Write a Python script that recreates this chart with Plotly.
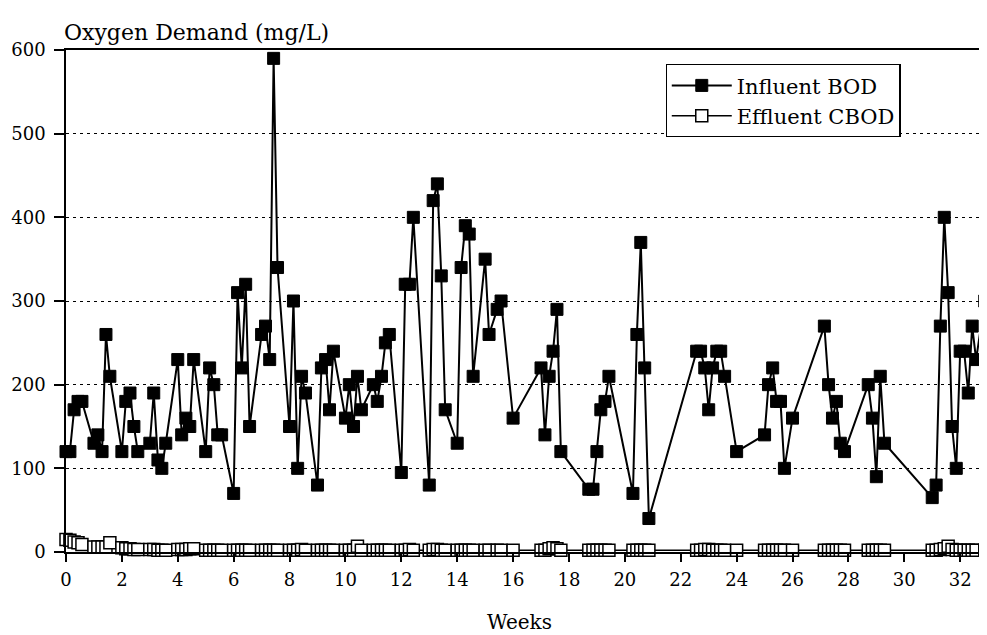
import plotly.graph_objects as go

# ---- data ----
weeks = [0.00, 0.14, 0.29, 0.43, 0.57,
         1.00, 1.14, 1.29, 1.43, 1.57,
         2.00, 2.14, 2.29, 2.43, 2.57,
         3.00, 3.14, 3.29, 3.43, 3.57,
         4.00, 4.14, 4.29, 4.43, 4.57,
         5.00, 5.14, 5.29, 5.43, 5.57,
         6.00, 6.14, 6.29, 6.43, 6.57,
         7.00, 7.14, 7.29, 7.43, 7.57,
         8.00, 8.14, 8.29, 8.43, 8.57,
         9.00, 9.14, 9.29, 9.43, 9.57,
         10.00, 10.14, 10.29, 10.43, 10.57,
         11.00, 11.14, 11.29, 11.43, 11.57,
         12.00, 12.14, 12.29, 12.43,
         13.00, 13.14, 13.29, 13.43, 13.57,
         14.00, 14.14, 14.29, 14.43, 14.57,
         15.00, 15.14, 15.43, 15.57,
         16.00,
         17.00, 17.14, 17.29, 17.43, 17.57, 17.71,
         18.71, 18.86,
         19.00, 19.14, 19.29, 19.43,
         20.29, 20.43, 20.57, 20.71, 20.86,
         22.57, 22.71, 22.86, 23.00, 23.14, 23.29, 23.43, 23.57,
         24.00,
         25.00, 25.14, 25.29, 25.43, 25.57, 25.71,
         26.00,
         27.14, 27.29, 27.43, 27.57, 27.71, 27.86,
         28.71, 28.86, 29.00, 29.14, 29.29,
         31.00, 31.14, 31.29, 31.43, 31.57, 31.71, 31.86,
         32.00, 32.14, 32.29, 32.43, 32.57, 32.88]

influent_bod = [120, 120, 170, 180, 180,
                130, 140, 120, 260, 210,
                120, 180, 190, 150, 120,
                130, 190, 110, 100, 130,
                230, 140, 160, 150, 230,
                120, 220, 200, 140, 140,
                70, 310, 220, 320, 150,
                260, 270, 230, 590, 340,
                150, 300, 100, 210, 190,
                80, 220, 230, 170, 240,
                160, 200, 150, 210, 170,
                200, 180, 210, 250, 260,
                95, 320, 320, 400,
                80, 420, 440, 330, 170,
                130, 340, 390, 380, 210,
                350, 260, 290, 300,
                160,
                220, 140, 210, 240, 290, 120,
                75, 75,
                120, 170, 180, 210,
                70, 260, 370, 220, 40,
                240, 240, 220, 170, 220, 240, 240, 210,
                120,
                140, 200, 220, 180, 180, 100,
                160,
                270, 200, 160, 180, 130, 120,
                200, 160, 90, 210, 130,
                65, 80, 270, 400, 310, 150, 100,
                240, 240, 190, 270, 230, 300]

effluent_cbod = [15, 14, 12, 11, 9,
                 6, 6, 6, 6, 11,
                 5, 4, 4, 3, 3,
                 3, 3, 2, 2, 2,
                 3, 3, 3, 4, 4,
                 2, 2, 2, 2, 2,
                 2, 2, 2, 2, 2,
                 2, 2, 2, 2, 2,
                 2, 2, 2, 3, 2,
                 2, 2, 2, 2, 2,
                 2, 2, 2, 7, 2,
                 2, 2, 2, 2, 2,
                 2, 2, 3, 2,
                 2, 3, 3, 2, 2,
                 2, 2, 2, 2, 2,
                 2, 2, 2, 2,
                 2,
                 2, 2, 4, 5, 4, 2,
                 2, 2,
                 2, 2, 2, 2,
                 2, 2, 2, 2, 2,
                 2, 2, 3, 3, 2, 2, 2, 2,
                 2,
                 2, 2, 2, 2, 2, 2,
                 2,
                 2, 2, 2, 2, 2, 2,
                 2, 2, 2, 2, 2,
                 2, 2, 3, 4, 7, 3, 2,
                 2, 2, 2, 2, 2, 2]

x_ticks = [0, 2, 4, 6, 8, 10, 12, 14, 16, 18, 20, 22, 24, 26, 28, 30, 32]
y_ticks = [0, 100, 200, 300, 400, 500, 600]

FONT = "DejaVu Serif, Liberation Serif, serif"

fig = go.Figure()
fig.add_trace(go.Scatter(
    x=weeks, y=influent_bod, name="Influent BOD", mode="lines+markers",
    line=dict(color="black", width=2),
    marker=dict(symbol="square", size=12, color="black",
                line=dict(color="black", width=1)),
    cliponaxis=False,
))
fig.add_trace(go.Scatter(
    x=weeks, y=effluent_cbod, name="Effluent CBOD", mode="lines+markers",
    line=dict(color="black", width=1.5),
    marker=dict(symbol="square", size=12, color="white",
                line=dict(color="black", width=1.5)),
    cliponaxis=False,
))

# the page body has an 8px margin, so the figure is sized/offset to compensate
fig.update_layout(
    width=979, height=627,
    margin=dict(l=58, r=0, t=42, b=83),
    paper_bgcolor="white", plot_bgcolor="white",
    font=dict(family=FONT, size=18, color="black"),
    showlegend=True,
    legend=dict(
        x=0.651, y=0.972, xanchor="left", yanchor="top",
        bgcolor="white", bordercolor="black", borderwidth=1.2,
        font=dict(family=FONT, size=21, color="black"),
        itemwidth=60, tracegroupgap=0,
    ),
    xaxis=dict(
        range=[0, 32.96], tickmode="array", tickvals=x_ticks,
        ticks="outside", ticklen=8, tickwidth=1.5, tickcolor="black",
        showline=True, linecolor="black", linewidth=1.5, mirror=True,
        showgrid=False, zeroline=False,
        tickfont=dict(family=FONT, size=18), ticklabelstandoff=3,
    ),
    yaxis=dict(
        range=[0, 600], tickmode="array", tickvals=y_ticks,
        ticks="outside", ticklen=10, tickwidth=1.5, tickcolor="black",
        showline=True, linecolor="black", linewidth=1.5,
        showgrid=True, gridcolor="black", gridwidth=1.2, griddash="3px,4px",
        zeroline=False,
        tickfont=dict(family=FONT, size=18), ticklabelstandoff=5,
    ),
    annotations=[
        dict(text="Oxygen Demand (mg/L)", xref="paper", yref="paper",
             x=-0.004, y=1.034, xanchor="left", yanchor="middle",
             showarrow=False, font=dict(family=FONT, size=22)),
        dict(text="Weeks", xref="paper", yref="paper",
             x=0.492, y=-0.139, xanchor="center", yanchor="middle",
             showarrow=False, font=dict(family=FONT, size=20)),
    ],
)

fig.write_html("out.html")
